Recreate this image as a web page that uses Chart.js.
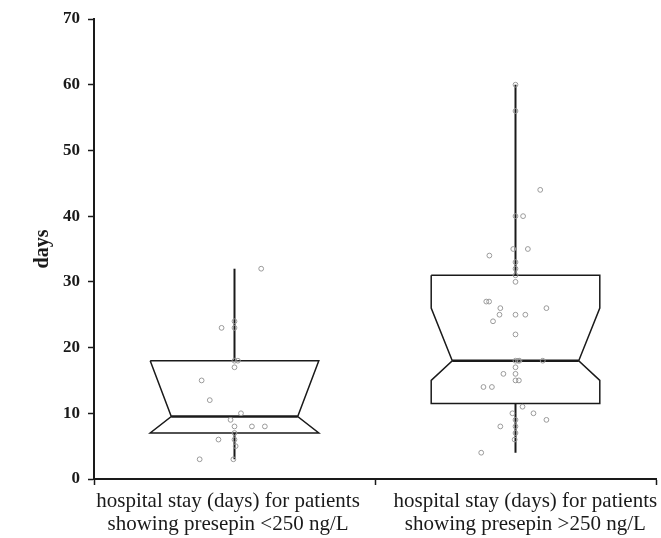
<!DOCTYPE html>
<html lang="en">
<head>
  <meta charset="UTF-8" />
  <title>Hospital stay by presepsin</title>
  <script src="https://cdn.jsdelivr.net/npm/chart.js"></script>
  <style>
    * { margin: 0; padding: 0; box-sizing: border-box; }
    body { background: #ffffff; }
    #wrap { width: 661px; height: 538px; }
  </style>
</head>
<body>
  <div id="wrap"><canvas id="boxChart" width="661" height="538"></canvas></div>

  <script>
    // categories (x), one box per category
    const categories = [
      ['hospital stay (days) for patients', 'showing presepin <250 ng/L'],
      ['hospital stay (days) for patients', 'showing presepin >250 ng/L']
    ];
    const yTicks = [0, 10, 20, 30, 40, 50, 60, 70];

    // box statistics
    const whiskerLow = [3, 4];
    const q1 = [7, 11.5];
    const notchLow = [7, 15];
    const median = [9.5, 18];
    const notchHigh = [18, 26];
    const q3 = [18, 31];
    const whiskerHigh = [32, 60];

    // individual patients (days) and their horizontal jitter
    const lowStay = [32, 24, 23, 23, 18, 18, 17, 15, 12, 10, 9, 8, 8, 8, 7, 6, 6, 5, 3, 3];
    const lowJitter = [0.095, 0, -0.046, 0, 0, 0.012, 0, -0.117, -0.088, 0.023, -0.014, 0, 0.062, 0.108, 0, -0.057, 0, 0.004, -0.124, -0.004];
    const highStay = [60, 56, 44, 40, 40, 35, 35, 34, 33, 32, 31, 30, 27, 27, 26, 26, 25, 25, 25, 24, 22,
      18, 18, 18, 18, 17, 16, 16, 15, 15, 14, 14, 11, 10, 10, 9, 9, 8, 8, 7, 6, 4];
    const highJitter = [0, 0, 0.088, 0, 0.027, -0.008, 0.044, -0.093, 0, 0, 0, 0, -0.104, -0.094, -0.054, 0.110, -0.057, 0, 0.035, -0.080, 0,
      0, 0.009, 0.014, 0.097, 0, -0.043, 0, 0, 0.012, -0.114, -0.084, 0.025, -0.011, 0.064, 0, 0.110, -0.054, 0, 0, -0.003, -0.122];

    const BOX_HALF = 0.3;
    const NOTCH_HALF = 0.225;
    // where the category captions sit (they are not exactly under the boxes)
    const LABEL_AT = [-0.023, 1.035];
    const serif = "'Liberation Serif', 'Times New Roman', serif";

    function boxOutline(i) {
      const l = i - BOX_HALF, r = i + BOX_HALF, nl = i - NOTCH_HALF, nr = i + NOTCH_HALF;
      return [
        { x: l, y: q3[i] }, { x: l, y: notchHigh[i] }, { x: nl, y: median[i] },
        { x: l, y: notchLow[i] }, { x: l, y: q1[i] }, { x: r, y: q1[i] },
        { x: r, y: notchLow[i] }, { x: nr, y: median[i] }, { x: r, y: notchHigh[i] },
        { x: r, y: q3[i] }, { x: l, y: q3[i] }
      ];
    }

    function lineSet(data, width) {
      return {
        type: 'scatter', data: data, showLine: true, tension: 0,
        borderColor: '#1a1a1a', borderWidth: width, pointRadius: 0, pointHoverRadius: 0
      };
    }

    const datasets = [];
    datasets.push({
      data: lowStay.map((v, k) => ({ x: 0 + lowJitter[k], y: v })),
      pointRadius: 2.4, pointBorderWidth: 1, borderColor: '#9a9a9a', backgroundColor: 'rgba(0,0,0,0)'
    });
    datasets.push({
      data: highStay.map((v, k) => ({ x: 1 + highJitter[k], y: v })),
      pointRadius: 2.4, pointBorderWidth: 1, borderColor: '#9a9a9a', backgroundColor: 'rgba(0,0,0,0)'
    });
    categories.forEach((c, i) => {
      datasets.push(lineSet([{ x: i - NOTCH_HALF, y: median[i] }, { x: i + NOTCH_HALF, y: median[i] }], 2.5));
      datasets.push(lineSet(boxOutline(i), 1.5));
      datasets.push(lineSet([{ x: i, y: q3[i] }, { x: i, y: whiskerHigh[i] }], 2));
      datasets.push(lineSet([{ x: i, y: q1[i] }, { x: i, y: whiskerLow[i] }], 2));
    });

    // tick list: marks between categories, captions at odd indexes
    const xTickValues = [-0.5, LABEL_AT[0], 0.5, LABEL_AT[1], 1.5];

    new Chart(document.getElementById('boxChart'), {
      type: 'scatter',
      data: { datasets: datasets },
      options: {
        responsive: false,
        animation: false,
        layout: { padding: { top: 19, right: 1, left: 0, bottom: 0 } },
        plugins: { legend: { display: false }, tooltip: { enabled: false } },
        scales: {
          x: {
            type: 'linear',
            min: -0.5,
            max: 1.5,
            afterBuildTicks: (scale) => {
              scale.ticks = xTickValues.map(v => ({ value: v }));
            },
            afterFit: (scale) => { scale.height = 59; },
            border: { color: '#1a1a1a', width: 2 },
            grid: {
              drawOnChartArea: false,
              tickLength: 6,
              tickWidth: 1.5,
              tickColor: (ctx) => (ctx.index % 2 === 1 ? 'rgba(0,0,0,0)' : '#1a1a1a')
            },
            ticks: {
              autoSkip: false,
              maxRotation: 0,
              minRotation: 0,
              padding: 5,
              color: '#1a1a1a',
              font: { family: serif, size: 21, lineHeight: 1.1 },
              callback: (v, idx) => (idx % 2 === 1 ? categories[(idx - 1) / 2] : '')
            }
          },
          y: {
            min: 0,
            max: 70,
            afterBuildTicks: (scale) => {
              scale.ticks = yTicks.map(v => ({ value: v }));
            },
            afterFit: (scale) => { scale.width = 94; },
            border: { color: '#1a1a1a', width: 2 },
            grid: { drawOnChartArea: false, tickLength: 6, tickWidth: 1.5, tickColor: '#1a1a1a' },
            ticks: {
              padding: 8,
              color: '#1a1a1a',
              font: { family: serif, size: 17, weight: 'bold' }
            },
            title: {
              display: true,
              text: 'days',
              color: '#1a1a1a',
              padding: { top: 31, bottom: 0 },
              font: { family: serif, size: 20, weight: 'bold' }
            }
          }
        }
      }
    });
  </script>
</body>
</html>
